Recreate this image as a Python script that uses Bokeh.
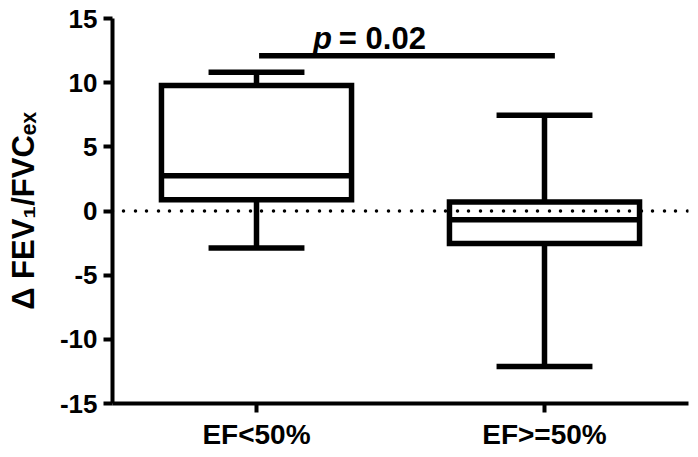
from bokeh.plotting import figure
from bokeh.models import ColumnDataSource, FactorRange, Range1d, FixedTicker, Span
from bokeh.transform import dodge
from bokeh.embed import file_html
from bokeh.resources import INLINE
from bokeh.core.properties import value

# ---- data ----
categories = ["EF<50%", "EF>=50%"]
q1 = [0.88, -2.53]
median = [2.75, -0.68]
q3 = [9.77, 0.71]
whisker_low = [-2.88, -12.12]
whisker_high = [10.82, 7.47]
y_ticks = [-15, -10, -5, 0, 5, 10, 15]
y_title = "Δ FEV₁/FVCₑₓ"
p_value_text = "= 0.02"
p_bar_level = 12.1

FONT = "Liberation Sans"
LW = 5.5

p = figure(x_range=FactorRange(*categories), y_range=Range1d(-15, 15),
           width=698, height=457, output_backend="svg", toolbar_location=None,
           min_border_left=112, min_border_right=10, min_border_top=18, min_border_bottom=54)
p.xgrid.visible = False
p.ygrid.visible = False
p.outline_line_color = None
p.background_fill_color = "white"
p.border_fill_color = "white"

for ax in (p.xaxis[0], p.yaxis[0]):
    ax.axis_line_width = 4
    ax.axis_line_color = "black"
    ax.major_tick_line_width = 4
    ax.major_tick_line_color = "black"
    ax.major_tick_in = 0
    ax.major_tick_out = 9
    ax.minor_tick_in = 0
    ax.minor_tick_out = 0
    ax.major_label_text_font = FONT
    ax.major_label_text_font_style = "bold"
    ax.major_label_text_color = "black"
yax = p.yaxis[0]
yax.ticker = FixedTicker(ticks=y_ticks)
yax.major_label_overrides = {t: str(t) for t in y_ticks}
yax.major_label_text_font_size = "26px"
yax.major_label_standoff = 6
yax.axis_label = y_title
yax.axis_label_text_font = FONT
yax.axis_label_text_font_style = "bold"
yax.axis_label_text_font_size = "31px"
yax.axis_label_text_color = "black"
yax.axis_label_standoff = 16
p.xaxis[0].major_label_text_font_size = "28px"
p.xaxis[0].major_label_standoff = 6

src = ColumnDataSource(dict(cat=categories, q1=q1, med=median, q3=q3,
                            lo=whisker_low, hi=whisker_high))
# whisker stems
p.segment(x0="cat", y0="q3", x1="cat", y1="hi", source=src, line_width=LW, line_color="black")
p.segment(x0="cat", y0="lo", x1="cat", y1="q1", source=src, line_width=LW, line_color="black")
# whisker caps
for col in ("hi", "lo"):
    p.segment(x0=dodge("cat", -0.1665, range=p.x_range), x1=dodge("cat", 0.1665, range=p.x_range),
              y0=col, y1=col, source=src, line_width=LW, line_color="black")
# boxes
p.vbar(x="cat", width=0.66, top="q3", bottom="q1", source=src, fill_color="white",
       line_color="black", line_width=LW, line_join="miter")
# medians
p.segment(x0=dodge("cat", -0.33, range=p.x_range), x1=dodge("cat", 0.33, range=p.x_range),
          y0="med", y1="med", source=src, line_width=LW, line_color="black")

# zero reference line (dotted)
p.add_layout(Span(location=0, dimension="width", line_color="black", line_width=3.5,
                  line_dash="0 11 0 12", line_cap="round"))

# significance bar + text
sig = ColumnDataSource(dict(c0=[categories[0]], c1=[categories[1]], y=[p_bar_level]))
p.segment(x0=dodge("c0", 0.009, range=p.x_range), x1=dodge("c1", 0.036, range=p.x_range),
          y0="y", y1="y", source=sig, line_width=5.6, line_color="black")
p.text(x=[0.696], y=[13.48], text=["p"], text_font=value(FONT), text_font_style="bold italic",
       text_font_size="31px", text_color="black", text_baseline="alphabetic", text_align="left")
p.text(x=[0.786], y=[13.48], text=[p_value_text], text_font=value(FONT), text_font_style="bold",
       text_font_size="31px", text_color="black", text_baseline="alphabetic", text_align="left")

open("out.html", "w").write(file_html(p, INLINE))
